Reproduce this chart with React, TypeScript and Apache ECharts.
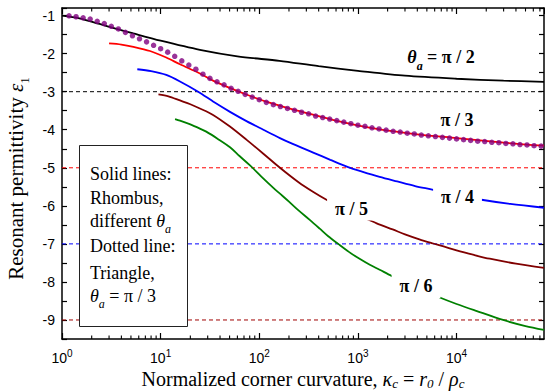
import { useEffect, useRef } from 'react';
import * as echarts from 'echarts';

const SERIF = '"Liberation Serif", "Times New Roman", serif';
const SANS = '"Liberation Sans", Arial, sans-serif';

const X_MIN = 1;
const X_MAX = 77000;
const Y_MIN = -9.5;
const Y_MAX = -0.8;

// minor tick positions on the log axis
const minorTicksX = [
  2, 3, 4, 5, 6, 7, 8, 9,
  20, 30, 40, 50, 60, 70, 80, 90,
  200, 300, 400, 500, 600, 700, 800, 900,
  2000, 3000, 4000, 5000, 6000, 7000, 8000, 9000,
  20000, 30000, 40000, 50000, 60000, 70000,
];

// Rhombus, theta_a = pi/2
const halfPiX = [1, 1.5, 2.4, 3.5, 5.3, 10, 25, 60, 160, 400, 1000, 3000, 10000, 30000, 77000];
const halfPiY = [-1, -1.07, -1.22, -1.34, -1.47, -1.66, -1.9, -2.07, -2.19, -2.33, -2.45, -2.58, -2.66, -2.71, -2.74];

// Rhombus, theta_a = pi/3
const thirdPiX = [3, 4, 5.3, 7.8, 11.4, 15.7, 25, 34, 50, 75, 120, 200, 350, 700, 1500, 4000, 10000, 30000, 77000];
const thirdPiY = [-1.73, -1.76, -1.82, -1.93, -2.1, -2.28, -2.52, -2.71, -2.9, -3.08, -3.27, -3.44, -3.6, -3.8, -3.97, -4.12, -4.22, -4.34, -4.42];

// Rhombus, theta_a = pi/4
const quarterPiX = [5.8, 8, 11.4, 15.7, 24, 35, 50.5, 75, 110, 162, 204, 352, 525, 795, 1100, 1660, 2500, 3800, 5800, 10000, 17900, 35000, 77000];
const quarterPiY = [-2.41, -2.46, -2.56, -2.73, -3.0, -3.28, -3.53, -3.78, -4.0, -4.22, -4.34, -4.6, -4.79, -4.98, -5.1, -5.24, -5.36, -5.48, -5.58, -5.72, -5.84, -5.95, -6.05];

// Rhombus, theta_a = pi/5
const fifthPiX = [9.5, 12, 15.7, 20, 25, 34, 50, 74, 110, 162, 250, 350, 480, 700, 1000, 1550, 2250, 3000, 4200, 5800, 10000, 15000, 21700, 40000, 77000];
const fifthPiY = [-3.07, -3.12, -3.23, -3.33, -3.44, -3.61, -3.91, -4.26, -4.63, -5.0, -5.38, -5.63, -5.84, -6.06, -6.24, -6.46, -6.62, -6.75, -6.88, -6.99, -7.17, -7.29, -7.39, -7.52, -7.63];

// Rhombus, theta_a = pi/6
const sixthPiX = [14, 15.7, 20, 25, 29, 38, 50.5, 63, 80, 105, 138, 162, 200, 250, 325, 410, 500, 630, 810, 1050, 1320, 1660, 2190, 3500, 5000, 6760, 10000, 15800, 29600, 50000, 77000];
const sixthPiY = [-3.72, -3.76, -3.86, -3.97, -4.05, -4.24, -4.46, -4.69, -4.93, -5.23, -5.52, -5.68, -5.89, -6.12, -6.37, -6.6, -6.8, -7.0, -7.21, -7.4, -7.55, -7.68, -7.84, -8.08, -8.26, -8.41, -8.58, -8.76, -9.0, -9.16, -9.26];

// Triangle, theta_a = pi/3 (dotted)
const triX = [
  1.179, 1.389, 1.638, 1.931, 2.276, 2.683, 3.162, 3.728, 4.394, 5.179, 6.105, 7.197, 8.483,
  10, 11.79, 13.89, 16.38, 19.31, 22.76, 26.83, 31.62, 37.28, 43.94, 51.79, 61.05, 71.97, 84.83,
  100, 117.9, 138.9, 163.8, 193.1, 227.6, 268.3, 316.2, 372.8, 439.4, 517.9, 610.5, 719.7, 848.3,
  1000, 1179, 1389, 1638, 1931, 2276, 2683, 3162, 3728, 4394, 5179, 6105, 7197, 8483,
  10000, 11790, 13890, 16380, 19310, 22760, 26830, 31620, 37280, 43940, 51790, 61050, 71970,
];
const triY = [
  -1.005, -1.03, -1.06, -1.09, -1.15, -1.21, -1.28, -1.35, -1.44, -1.53, -1.61, -1.69, -1.78,
  -1.87, -1.96, -2.07, -2.19, -2.3, -2.41, -2.54, -2.65, -2.74, -2.82, -2.91, -2.99, -3.07, -3.14,
  -3.21, -3.28, -3.34, -3.39, -3.44, -3.49, -3.54, -3.58, -3.64, -3.68, -3.72, -3.76, -3.8, -3.84,
  -3.88, -3.91, -3.95, -3.98, -4.01, -4.04, -4.06, -4.09, -4.11, -4.14, -4.16, -4.18, -4.2, -4.22,
  -4.24, -4.26, -4.28, -4.3, -4.31, -4.33, -4.34, -4.36, -4.37, -4.39, -4.4, -4.42, -4.43,
];

// horizontal dashed reference levels
const refLevels = [-3, -5, -7, -9];
const refColors = ['#000000', '#ff0000', '#0000ff', '#a00000'];

const zip = (xs: number[], ys: number[]) => xs.map((x, i) => [x, ys[i]]);

const subRich = (size: number, italic: boolean, bold = false, drop = 17) => ({
  fontSize: size,
  fontFamily: SERIF,
  fontStyle: italic ? 'italic' : 'normal',
  fontWeight: bold ? 'bold' : 'normal',
  color: '#000',
  fill: '#000',
  padding: [drop, 0, 0, 0],
});
const itRich = (size: number, bold = false) => ({
  fontSize: size,
  fontFamily: SERIF,
  fontStyle: 'italic',
  fontWeight: bold ? 'bold' : 'normal',
  color: '#000',
  fill: '#000',
});
const nRich = (size: number, bold = false) => ({
  fontSize: size,
  fontFamily: SERIF,
  fontWeight: bold ? 'bold' : 'normal',
  color: '#000',
  fill: '#000',
});

const boxRich = { it: itRich(18), sub: subRich(12, true), n: nRich(18) };
const lblRich = { it: itRich(18, true), sub: subRich(12, true, true), b: nRich(18, true) };

const boxText = (text: string, y: number) => ({
  type: 'text',
  x: 90,
  y,
  z: 101,
  style: {
    text,
    fontSize: 18,
    fontFamily: SERIF,
    fill: '#000',
    align: 'left',
    verticalAlign: 'middle',
    rich: boxRich,
  },
});

const curveLabel = (text: string, x: number, y: number, bg: boolean) => ({
  type: 'text',
  x,
  y,
  z: 101,
  style: {
    text,
    fontSize: 18,
    fontFamily: SERIF,
    fontWeight: 'bold',
    fill: '#000',
    align: 'center',
    verticalAlign: 'middle',
    rich: lblRich,
    backgroundColor: bg ? '#ffffff' : undefined,
    padding: bg ? [3, 8, 3, 8] : 0,
  },
});

const lineSeries = (name: string, xs: number[], ys: number[], color: string) => ({
  name,
  type: 'line',
  data: zip(xs, ys),
  smooth: 0.3,
  showSymbol: false,
  symbol: 'none',
  lineStyle: { color, width: 1.8 },
  itemStyle: { color },
  z: 3,
  silent: true,
});

const refSeries = refLevels.map((v, i) => ({
  name: `ref ${v}`,
  type: 'line',
  data: [
    [X_MIN, v],
    [X_MAX, v],
  ],
  showSymbol: false,
  symbol: 'none',
  lineStyle: { color: refColors[i], width: 1, type: [4, 3] },
  itemStyle: { color: refColors[i] },
  z: 2,
  silent: true,
}));

const axisCommonX = {
  type: 'log',
  logBase: 10,
  min: X_MIN,
  max: X_MAX,
  splitLine: { show: false },
  axisLine: { show: true, onZero: false, lineStyle: { color: '#000', width: 1.5 } },
  axisTick: { show: true, inside: true, length: 6, lineStyle: { color: '#000', width: 1.2 } },
};

const axisCommonY = {
  type: 'value',
  min: Y_MIN,
  max: Y_MAX,
  interval: 0.5,
  splitLine: { show: false },
  axisLine: { show: true, onZero: false, lineStyle: { color: '#000', width: 1.5 } },
  axisTick: { show: true, inside: true, length: 5, lineStyle: { color: '#000', width: 1.2 } },
};

const option: any = {
  animation: false,
  backgroundColor: '#ffffff',
  grid: { left: 62, right: 1, top: 8, bottom: 53, containLabel: false, outerBoundsMode: 'none' },
  xAxis: [
    {
      ...axisCommonX,
      position: 'bottom',
      axisLabel: {
        show: true,
        color: '#000',
        fontFamily: SANS,
        fontSize: 14,
        margin: 9,
        showMaxLabel: false,
        formatter: (v: number) => `10{sup|${Math.round(Math.log10(v))}}`,
        rich: {
          sup: { fontFamily: SANS, fontSize: 10, color: '#000', padding: [0, 0, 9, 0] },
        },
      },
      name: 'Normalized corner curvature, {it|κ}{sub|c}{n| = }{it|r}{sub|0}{n| / }{it|ρ}{sub|c}',
      nameLocation: 'middle',
      nameGap: 25,
      nameTextStyle: {
        color: '#000',
        fontFamily: SERIF,
        fontSize: 20,
        rich: { it: itRich(20), sub: subRich(13, true, false, 9), n: nRich(20) },
      },
    },
    {
      ...axisCommonX,
      position: 'top',
      axisLabel: { show: false },
    },
  ],
  yAxis: [
    {
      ...axisCommonY,
      position: 'left',
      axisLabel: {
        show: true,
        color: '#000',
        fontFamily: SANS,
        fontSize: 14,
        margin: 7,
        formatter: (v: number) => (Math.abs(v - Math.round(v)) < 1e-6 ? String(Math.round(v)) : ''),
      },
      name: 'Resonant permittivity {it|ε}{sub|1}',
      nameLocation: 'middle',
      nameGap: 31,
      nameRotate: 90,
      nameTextStyle: {
        color: '#000',
        fontFamily: SERIF,
        fontSize: 21,
        padding: [0, 10, 0, 0],
        rich: { it: itRich(21), sub: subRich(13, false, false, 17) },
      },
    },
    {
      ...axisCommonY,
      position: 'right',
      axisLabel: { show: false },
    },
  ],
  series: [
    ...refSeries,
    lineSeries('pi/2', halfPiX, halfPiY, '#000000'),
    lineSeries('pi/3', thirdPiX, thirdPiY, '#ff0000'),
    lineSeries('pi/4', quarterPiX, quarterPiY, '#0000ff'),
    lineSeries('pi/5', fifthPiX, fifthPiY, '#800000'),
    lineSeries('pi/6', sixthPiX, sixthPiY, '#008000'),
    {
      name: 'triangle',
      type: 'scatter',
      data: zip(triX, triY),
      symbol: 'circle',
      symbolSize: 5.5,
      itemStyle: { color: '#800080' },
      z: 4,
      silent: true,
    },
    {
      name: 'minor ticks',
      type: 'custom',
      data: minorTicksX.map((v) => [v, Y_MIN]),
      silent: true,
      z: 6,
      renderItem: (_params: any, api: any) => {
        const v = api.value(0);
        const b = api.coord([v, Y_MIN]);
        const t = api.coord([v, Y_MAX]);
        return {
          type: 'group',
          children: [
            { type: 'line', shape: { x1: b[0], y1: b[1], x2: b[0], y2: b[1] - 3.5 }, style: { stroke: '#000', lineWidth: 1.1 } },
            { type: 'line', shape: { x1: t[0], y1: t[1], x2: t[0], y2: t[1] + 3.5 }, style: { stroke: '#000', lineWidth: 1.1 } },
          ],
        };
      },
    },
  ],
  graphic: [
    {
      type: 'rect',
      z: 100,
      shape: { x: 79.5, y: 145.5, width: 108, height: 181 },
      style: { fill: '#ffffff', stroke: '#222', lineWidth: 1 },
    },
    boxText('Solid lines:', 174),
    boxText('Rhombus,', 198),
    boxText('different {it|θ}{sub|a}', 220.6),
    boxText('Dotted line:', 246.2),
    boxText('Triangle,', 273.2),
    boxText('{it|θ}{sub|a}{n| = π / 3}', 295.6),
    curveLabel('{it|θ}{sub|a}{b| = π / 2}', 441, 57, false),
    curveLabel('π / 3', 457, 120, false),
    curveLabel('π / 4', 457.5, 197, true),
    curveLabel('π / 5', 351.5, 208.5, true),
    curveLabel('π / 6', 416, 286, true),
  ],
};

export default function App() {
  const ref = useRef<HTMLDivElement>(null);
  useEffect(() => {
    if (!ref.current) return;
    const chart = echarts.init(ref.current, undefined, { renderer: 'svg' });
    chart.setOption(option);
    return () => chart.dispose();
  }, []);
  return (
    <div
      ref={ref}
      style={{ position: 'absolute', left: 0, top: 0, width: 545, height: 392, background: '#fff' }}
    />
  );
}
